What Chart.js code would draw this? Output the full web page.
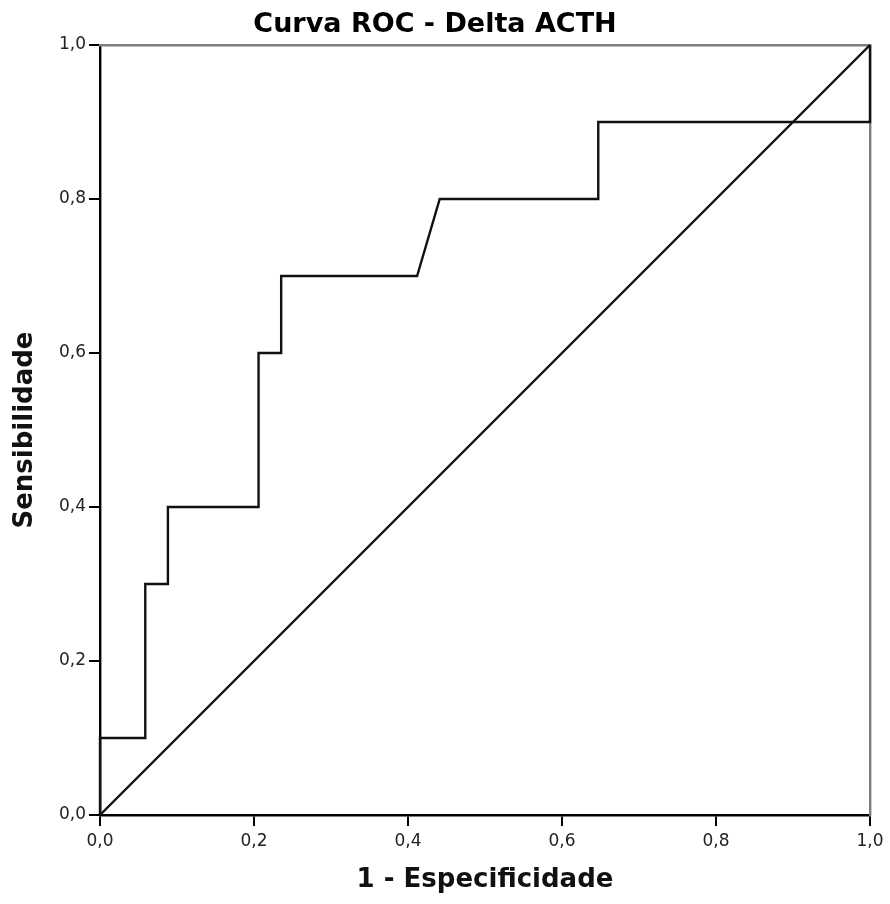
<!DOCTYPE html>
<html>
<head>
<meta charset="utf-8">
<title>Curva ROC - Delta ACTH</title>
<script src="https://cdn.jsdelivr.net/npm/chart.js@4.4.1/dist/chart.umd.min.js"></script>
<style>
  html, body { margin: 0; padding: 0; background: #ffffff; }
  #wrap { width: 890px; height: 904px; }
</style>
</head>
<body>
<div id="wrap"><canvas id="roc" width="890" height="904"></canvas></div>
<script>
// ROC curve coordinates (1 - especificidade, sensibilidade)
const fpr = [0, 0, 0.0588, 0.0588, 0.0882, 0.0882, 0.2059, 0.2059, 0.2353, 0.2353, 0.4118, 0.4412, 0.6471, 0.6471, 1, 1];
const tpr = [0, 0.1, 0.1, 0.3, 0.3, 0.4, 0.4, 0.6, 0.6, 0.7, 0.7, 0.8, 0.8, 0.9, 0.9, 1.0];

// Reference diagonal (random classifier)
const refX = [0, 1];
const refY = [0, 1];

// Axis tick labels (decimal comma)
const tickValues = [0, 0.2, 0.4, 0.6, 0.8, 1.0];
const tickLabels = ['0,0', '0,2', '0,4', '0,6', '0,8', '1,0'];

const toPoints = (xs, ys) => xs.map((x, i) => ({ x: x, y: ys[i] }));
const labelFor = (v) => {
  const i = tickValues.findIndex(t => Math.abs(t - v) < 1e-6);
  return i >= 0 ? tickLabels[i] : '';
};

const FONT = 'DejaVu Sans';

const tickOpts = {
  stepSize: 0.2,
  color: '#222222',
  font: { family: FONT, size: 17 },
  callback: (v) => labelFor(v)
};

new Chart(document.getElementById('roc'), {
  type: 'scatter',
  data: {
    datasets: [
      {
        label: 'ROC',
        data: toPoints(fpr, tpr),
        showLine: true,
        borderColor: '#111111',
        borderWidth: 2.4,
        pointRadius: 0,
        tension: 0,
        clip: false
      },
      {
        label: 'Referência',
        data: toPoints(refX, refY),
        showLine: true,
        borderColor: '#111111',
        borderWidth: 2.4,
        pointRadius: 0,
        tension: 0,
        clip: false
      }
    ]
  },
  options: {
    responsive: false,
    animation: false,
    events: [],
    layout: { padding: { left: 0, right: 20, top: 0, bottom: 0 } },
    plugins: {
      legend: { display: false },
      tooltip: { enabled: false },
      title: {
        display: true,
        text: 'Curva ROC - Delta ACTH',
        color: '#000000',
        font: { family: FONT, size: 27, weight: 'bold', lineHeight: 1.2 },
        padding: { top: 9, bottom: 3.6 }
      }
    },
    scales: {
      x: {
        type: 'linear',
        position: 'bottom',
        min: 0,
        max: 1,
        ticks: Object.assign({ padding: 5, maxRotation: 0 }, tickOpts),
        grid: { drawOnChartArea: false, drawTicks: true, tickLength: 11, color: '#000000', lineWidth: 2 },
        border: { display: true, color: '#000000', width: 2.4 },
        title: {
          display: true,
          text: '1 - Especificidade',
          color: '#111111',
          font: { family: FONT, size: 26, weight: 'bold', lineHeight: 1.2 },
          padding: { top: 0, bottom: 8 }
        },
        afterFit: (s) => { s.height = 89; }
      },
      y: {
        type: 'linear',
        position: 'left',
        min: 0,
        max: 1,
        ticks: Object.assign({ padding: 3 }, tickOpts),
        grid: { drawOnChartArea: false, drawTicks: true, tickLength: 11, color: '#000000', lineWidth: 2 },
        border: { display: true, color: '#000000', width: 2.4 },
        title: {
          display: true,
          text: 'Sensibilidade',
          color: '#111111',
          font: { family: FONT, size: 26, weight: 'bold', lineHeight: 1.2 },
          padding: { top: 10, bottom: 0 }
        },
        afterFit: (s) => { s.width = 100; }
      },
      xTop: {
        type: 'linear',
        position: 'top',
        min: 0,
        max: 1,
        ticks: { display: false },
        grid: { drawOnChartArea: false, drawTicks: false },
        border: { display: true, color: '#7f7f7f', width: 2.4 },
        afterFit: (s) => { s.height = 0; }
      },
      yRight: {
        type: 'linear',
        position: 'right',
        min: 0,
        max: 1,
        ticks: { display: false },
        grid: { drawOnChartArea: false, drawTicks: false },
        border: { display: true, color: '#7f7f7f', width: 2.4 },
        afterFit: (s) => { s.width = 0; }
      }
    }
  }
});
</script>
</body>
</html>
